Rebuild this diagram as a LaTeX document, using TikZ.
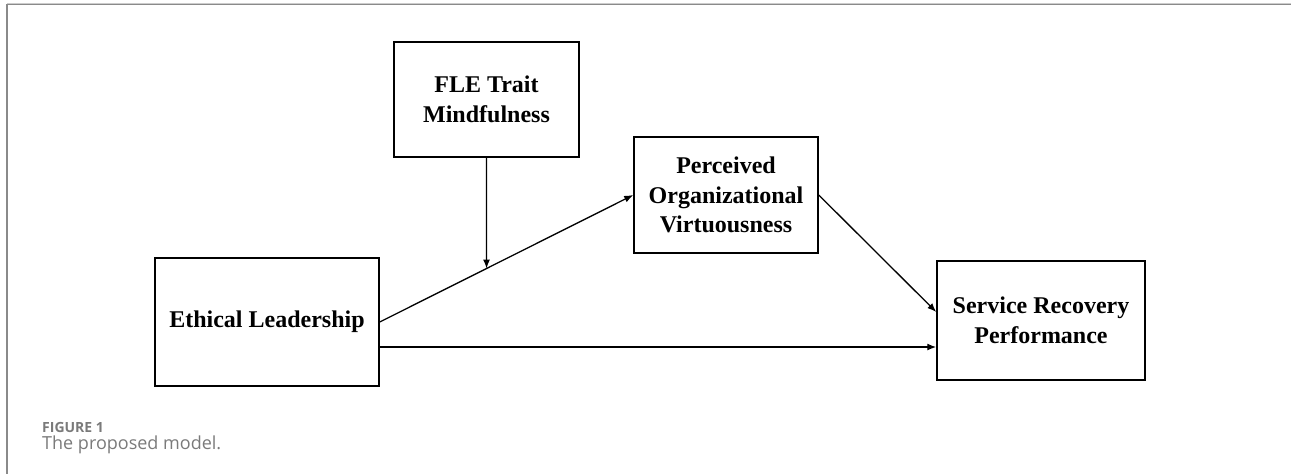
\documentclass[tikz,border=0pt]{standalone}
\usepackage{fontspec}
\setmainfont{Liberation Serif}
\newfontfamily\capfont{Open Sans}
\usepackage{xcolor}
\usetikzlibrary{positioning,calc,arrows.meta}
\definecolor{capgray}{HTML}{7a7a7a}
\definecolor{framegray}{HTML}{8a8a8a}
\definecolor{framelight}{HTML}{cccccc}

\begin{document}
\begin{tikzpicture}[x=1pt, y=-1pt,
  varbox/.style={draw, line width=1.5pt, rectangle, align=center, inner sep=0pt,
    font=\fontsize{24}{29.5}\selectfont\bfseries},
  link/.style={line width=1.3pt, -{Latex[length=9pt,width=7pt]}}]
  \useasboundingbox (0,0) rectangle (1291,474);

  % frame
  \draw[framelight, line width=1pt] (7,3.5) -- (1291,3.5);
  \draw[framegray, line width=1pt] (7,4.5) -- (1291,4.5);
  \draw[framegray, line width=1.3pt] (7,4) -- (7,474);

  % variables
  \node[varbox, minimum width=185pt, minimum height=115pt] (fle) at (486.5, 99.5) {FLE Trait\\Mindfulness};
  \node[varbox, minimum width=184pt, minimum height=116pt] (pov) at (726, 195) {Perceived\\Organizational\\Virtuousness};
  \node[varbox, minimum width=224pt, minimum height=128pt] (el) at (267, 322) {Ethical Leadership};
  \node[varbox, minimum width=208pt, minimum height=119pt] (srp) at (1041, 320.5) {Service Recovery\\Performance};

  % paths
  \draw[link] (el.east) -- (pov.west);
  \coordinate (mod) at (intersection of fle.south--fle.north and el.east--pov.west);
  \draw[link] (fle.south) -- (mod);
  \draw[link] (pov.east) -- ([yshift=8.5pt]srp.west);
  \coordinate (elout) at ([yshift=-25pt]el.east);
  \draw[link] (elout) -- (elout -| srp.west);

  % caption
  \node[anchor=base west, inner sep=0pt, text=capgray, font=\capfont\fontsize{14}{17}\selectfont\bfseries] (captitle) at (42, 432) {FIGURE 1};
  \node[anchor=base west, inner sep=0pt, text=capgray, font=\capfont\fontsize{18}{22}\selectfont] (captext) at (42, 449) {The proposed model.};
\end{tikzpicture}
\end{document}
